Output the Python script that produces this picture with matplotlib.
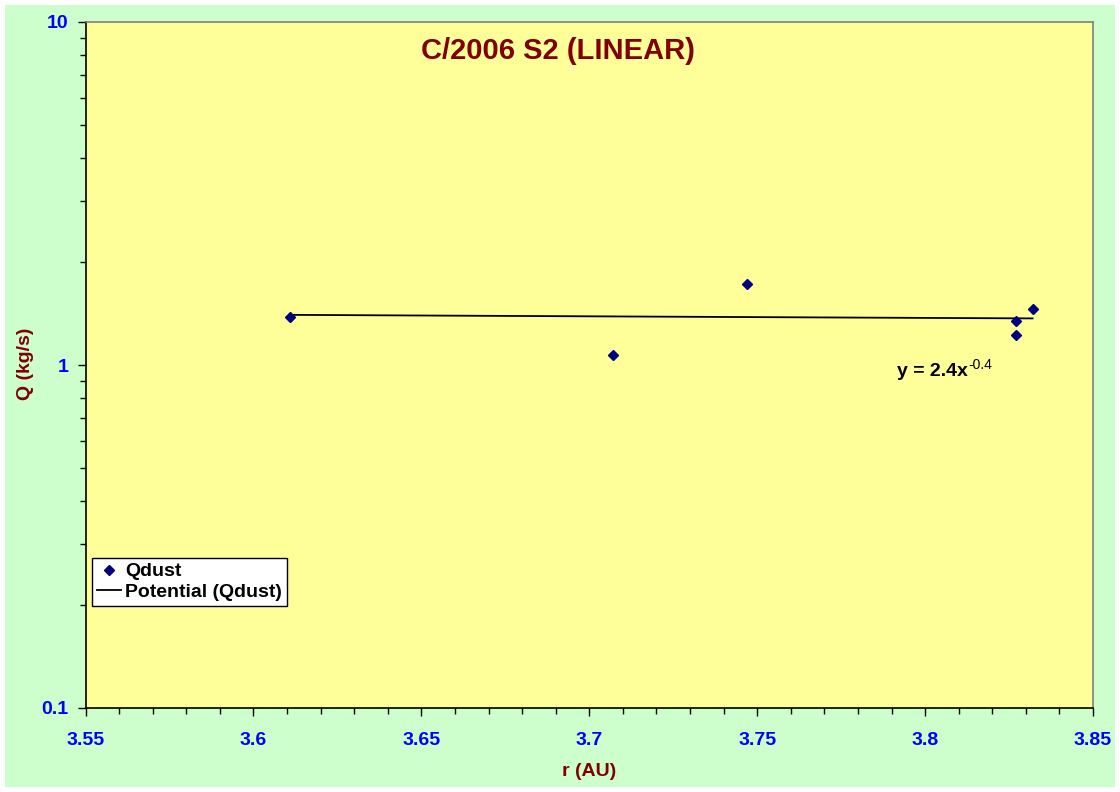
import numpy as np
import matplotlib
matplotlib.use('Agg')
import matplotlib.pyplot as plt
from matplotlib.patches import Rectangle
from matplotlib.ticker import MultipleLocator, LogLocator, NullFormatter, FixedLocator, FixedFormatter

# -------------------------------------------------------------------------------------------------
# Data
# -------------------------------------------------------------------------------------------------
r_au = [3.611, 3.707, 3.747, 3.827, 3.827, 3.832]
q_dust = [1.38, 1.07, 1.72, 1.34, 1.22, 1.46]

# Excel "Potential" trendline y = a * x^b (label shows rounded values)
fit_a = 2.34
fit_b = -0.4

title = "C/2006 S2 (LINEAR)"
fit_label = "y = 2.4x"
fit_label_exp = "-0.4"

x_ticks = [3.55, 3.6, 3.65, 3.7, 3.75, 3.8, 3.85]
x_tick_labels = ["3.55", "3.6", "3.65", "3.7", "3.75", "3.8", "3.85"]
y_ticks = [0.1, 1, 10]
y_tick_labels = ["0.1", "1", "10"]

x_fit = np.linspace(min(r_au), max(r_au), 100)
y_fit = fit_a * x_fit ** fit_b

# -------------------------------------------------------------------------------------------------
# Plot
# -------------------------------------------------------------------------------------------------
plt.rcParams['font.family'] = ['Liberation Sans', 'DejaVu Sans']
plt.rcParams['font.weight'] = 'bold'

fig = plt.figure(figsize=(11.2, 7.92), dpi=100)
fig.patch.set_facecolor('white')
fig.patches.append(Rectangle((5/1120, 5/792), 1110/1120, 782/792, transform=fig.transFigure,
                             facecolor='#CCFFCC', edgecolor='none', zorder=-10))

ax = fig.add_axes([85.5/1120, 84/792, 1007.5/1120, 686/792])
ax.set_facecolor('#FFFF99')

ax.plot(r_au, q_dust, 'D', color='#000080', markersize=5, label='Qdust', zorder=3)
ax.plot(x_fit, y_fit, '-', color='black', linewidth=1.3, label='Potential (Qdust)')

ax.set_yscale('log')
ax.set_xlim(3.55, 3.85)
ax.set_ylim(0.1, 10)

ax.xaxis.set_major_locator(FixedLocator(x_ticks))
ax.xaxis.set_major_formatter(FixedFormatter(x_tick_labels))
ax.xaxis.set_minor_locator(MultipleLocator(0.01))
ax.yaxis.set_major_locator(FixedLocator(y_ticks))
ax.yaxis.set_major_formatter(FixedFormatter(y_tick_labels))
ax.yaxis.set_minor_locator(LogLocator(base=10, subs=np.arange(2, 10)))
ax.yaxis.set_minor_formatter(NullFormatter())

ax.tick_params(axis='both', which='major', direction='out', length=6, width=1, colors='black',
               labelcolor='#0000FF', labelsize=14)
ax.tick_params(axis='both', which='minor', direction='out', length=4, width=1, colors='black')
ax.tick_params(axis='x', which='major', pad=11)
ax.tick_params(axis='y', which='major', pad=6)

for s in ['left', 'bottom']:
    ax.spines[s].set_color('black')
    ax.spines[s].set_linewidth(1.2)
for s in ['top', 'right']:
    ax.spines[s].set_color('#808080')
    ax.spines[s].set_linewidth(1.2)

fig.text(589/1120, 1 - 771/792, "r (AU)", ha='center', va='center',
         color='#800000', fontsize=14, fontweight='bold')
fig.text(25/1120, 1 - 364/792, "Q (kg/s)", ha='center', va='center', rotation=90,
         color='#800000', fontsize=14, fontweight='bold')

fig.text(558/1120, 1 - 51/792, title, ha='center', va='center',
         color='#800000', fontsize=21, fontweight='bold')

# trendline equation with superscript exponent
eq = ax.text(3.7915, 0.955, fit_label, ha='left', va='center', color='black',
             fontsize=14, fontweight='bold')
ax.annotate(fit_label_exp, xy=(1, 1), xycoords=eq, xytext=(0.5, 4), textcoords='offset points',
            ha='left', va='top', color='black', fontsize=10, fontweight='normal')

leg = ax.legend(loc='lower left', bbox_to_anchor=(0.0065, 0.149), frameon=True, fancybox=False,
                fontsize=14, handlelength=1.25, handletextpad=0.2, borderpad=0.25,
                labelspacing=0.15, borderaxespad=0)
leg.get_frame().set_edgecolor('black')
leg.get_frame().set_facecolor('white')
leg.get_frame().set_linewidth(1.0)
leg.get_frame().set_alpha(1)

plt.savefig('out.png', dpi=100)
